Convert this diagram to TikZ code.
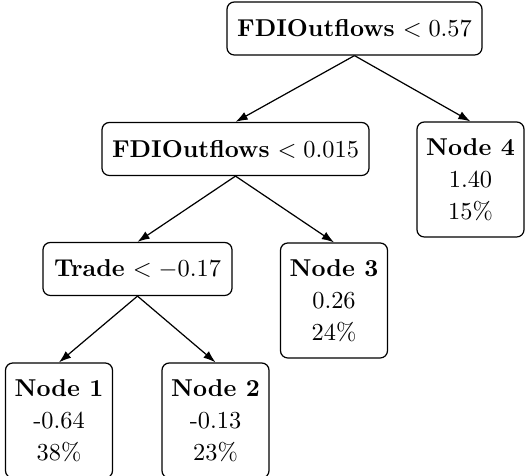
\documentclass[tikz,border=0pt]{standalone}
\usetikzlibrary{arrows.meta}
\begin{document}
\begin{tikzpicture}[x=0.41pt,y=-0.41pt,
  split/.style={draw,rounded corners=3pt,minimum height=53*0.41pt,inner sep=0pt,line width=0.5pt},
  leaf/.style={draw,rounded corners=3pt,align=center,minimum width=107*0.41pt,minimum height=115*0.41pt,inner sep=0pt,line width=0.5pt},
  edge/.style={-{Latex[length=5pt,width=3.5pt]},line width=0.5pt}]
\useasboundingbox (0,0) rectangle (526,476);
\node[split,minimum width=255*0.41pt] (root) at (354.5,28.5) {\textbf{FDIOutflows} $<0.57$};
\node[split,minimum width=267*0.41pt] (fdi) at (235.5,149) {\textbf{FDIOutflows} $<0.015$};
\node[leaf] (n4) at (470.5,179.5) {\textbf{Node 4}\\[1pt]1.40\\[1.2pt]15\%};
\node[split,minimum width=189*0.41pt] (trade) at (137.5,269) {\textbf{Trade} $<-0.17$};
\node[leaf] (n3) at (334,300.5) {\textbf{Node 3}\\[1pt]0.26\\[1.2pt]24\%};
\node[leaf] (n1) at (59,420.5) {\textbf{Node 1}\\[1pt]-0.64\\[1.2pt]38\%};
\node[leaf] (n2) at (215.5,420.5) {\textbf{Node 2}\\[1pt]-0.13\\[1.2pt]23\%};
\draw[edge] (root.south) -- (fdi.north);
\draw[edge] (root.south) -- (n4.north);
\draw[edge] (fdi.south) -- (trade.north);
\draw[edge] (fdi.south) -- (n3.north);
\draw[edge] (trade.south) -- (n1.north);
\draw[edge] (trade.south) -- (n2.north);
\end{tikzpicture}
\end{document}
